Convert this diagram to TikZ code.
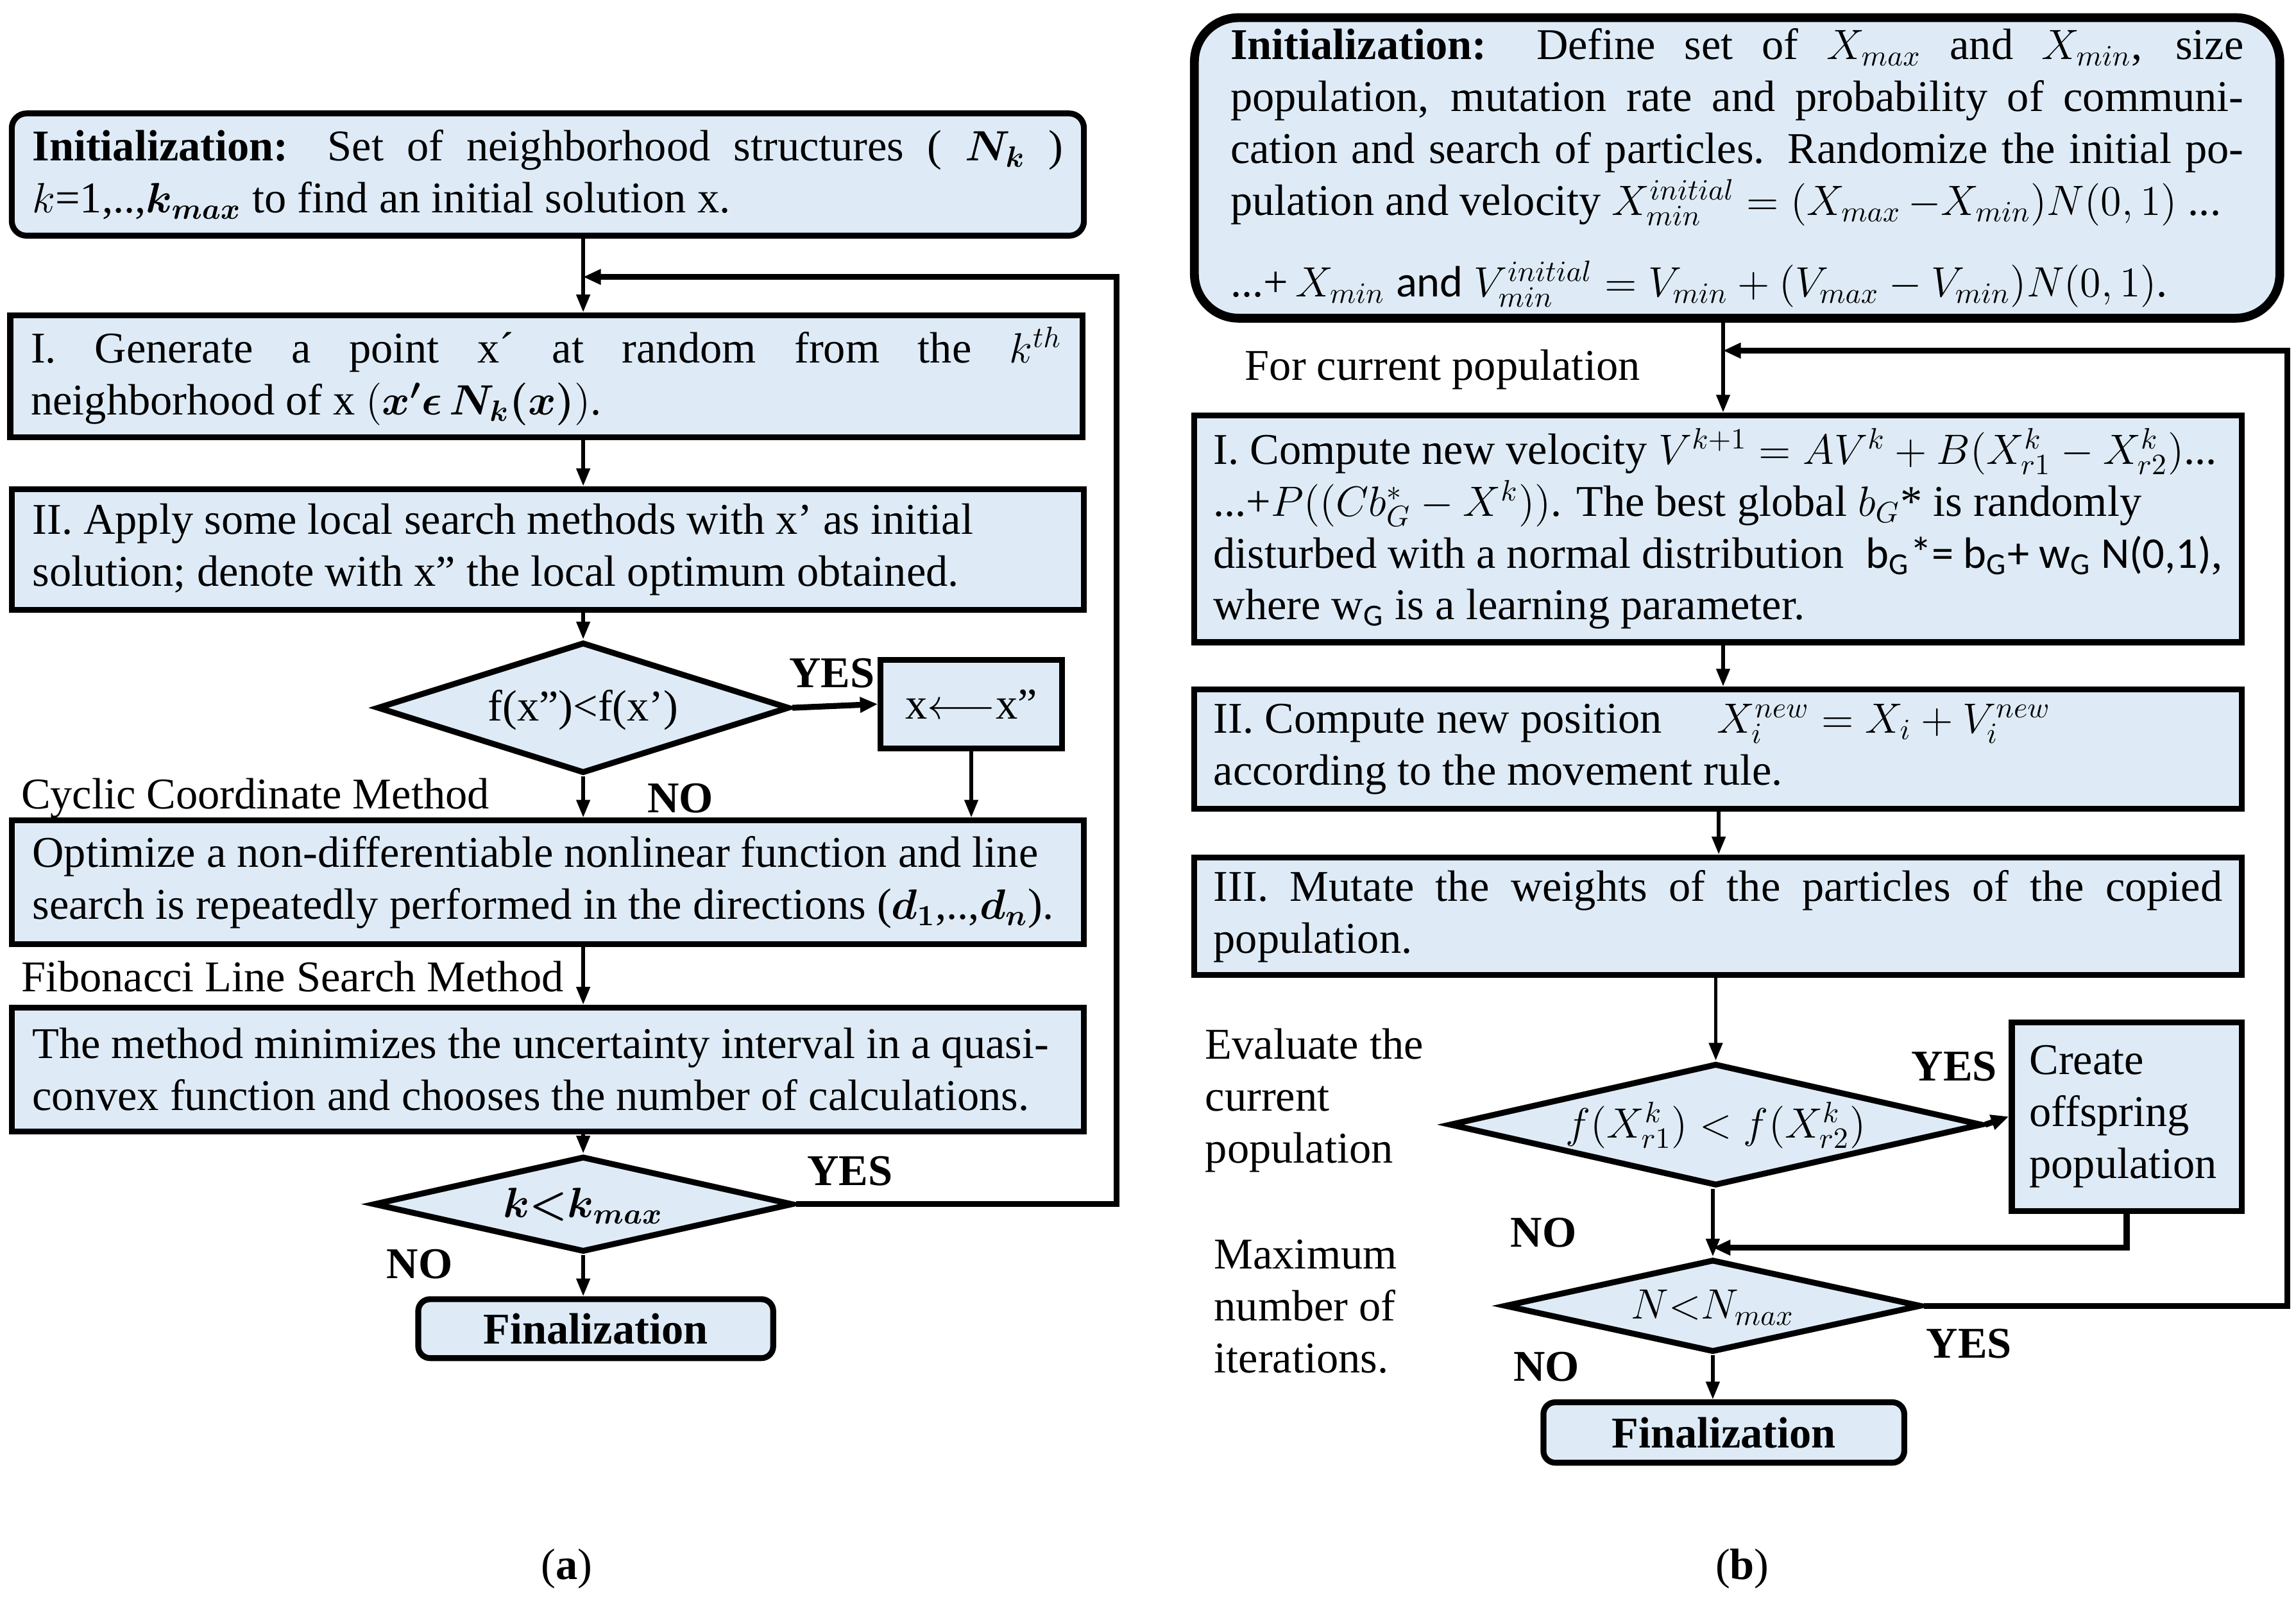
\documentclass[tikz,border=0pt]{standalone}
\usepackage{fontspec}
\setmainfont{Liberation Serif}
\newfontfamily\calibri{Carlito}
\usepackage{bm}
\usetikzlibrary{shapes.geometric,arrows.meta,calc}
\definecolor{boxblue}{RGB}{222,235,247}
\newcommand\myfs{\fontsize{14.9pt}{17.6pt}\selectfont}
\newcommand\ctr[1]{\smash{\raisebox{-0.3em}{\makebox[0pt]{#1}}}}
\tolerance=10000
\hyphenpenalty=10000
\begin{document}
\begin{tikzpicture}[x=0.5pt,y=-0.5pt,
  blk/.style={draw=black, line width=2pt, fill=boxblue, font=\myfs},
  lbox/.style={blk, align=justify, inner xsep=7pt, inner ysep=0pt, text width=350pt},
  rbox/.style={blk, align=justify, inner xsep=6.5pt, inner ysep=0pt, text width=342.5pt},
  dia/.style={blk, diamond, inner sep=0pt},
  fin/.style={blk, rounded corners=4pt, inner sep=0pt, font=\myfs\bfseries},
  lbl/.style={font=\myfs, inner sep=0pt},
  yn/.style={font=\myfs\bfseries, inner sep=0pt},
  arr/.style={line width=1.2pt, -{Triangle[length=6pt,width=4.5pt]}},
  tarr/.style={line width=2pt, -{Triangle[length=6pt,width=5pt]}}
]
\fill[white] (0,0) rectangle (1559,1084);
\useasboundingbox (0,0) rectangle (1559,1084);

% ---------------- left panel ----------------
\coordinate (ca) at (396,0);
\node[lbox, rounded corners=5pt, minimum height=41.5pt] (initA) at (372,118.5)
 {\textbf{Initialization:} Set of neighborhood structures ( $\bm{N_k}$ )\linebreak $k$=1,..,$\bm{k_{max}}$ to find an initial solution x.};
\node[lbox, minimum height=41.5pt] (A1) at (371,255.5)
 {I. Generate a point x´ at random from the $k^{th}$\linebreak neighborhood of x $\big(\bm{x'\epsilon\, N_k(x)}\big)$.};
\node[lbox, minimum height=41pt] (A2) at (372,373)
 {II. Apply some local search methods with x’ as initial\\ solution; denote with x” the local optimum obtained.};
\node[dia, minimum width=140pt, minimum height=44.5pt] (D1) at (396,480.5) {\ctr{f(x”)<f(x’)}};
\node[blk, minimum width=61.5pt, minimum height=30pt, inner sep=0pt] (X) at (659.5,478) {x$\longleftarrow$x”};
\node[lbox, minimum height=42pt] (A3) at (372,599)
 {Optimize a non-differentiable nonlinear function and line\\ search is repeatedly performed in the directions ($\bm{d_1}$,..,$\bm{d_n}$).};
\node[lbox, minimum height=42pt] (A4) at (372,726)
 {The method minimizes the uncertainty interval in a quasi-\\ convex function and chooses the number of calculations.};
\node[dia, minimum width=142.5pt, minimum height=32.5pt] (D2) at (396,817.5) {\ctr{$\bm{k{<}k_{max}}$}};
\node[fin, minimum width=120.5pt, minimum height=20pt] (FA) at (404.5,902) {Finalization};

\draw[arr] (initA.south -| ca) -- (A1.north -| ca);
\draw[arr] (A1.south -| ca) -- (A2.north -| ca);
\draw[arr] (A2.south -| ca) -- (D1.north);
\draw[tarr] (D1.east) -- (X.west);
\draw[arr] (X.south) -- (X.south |- A3.north);
\draw[arr] (D1.south) -- (D1.south |- A3.north);
\draw[arr] (A3.south -| ca) -- (A4.north -| ca);
\draw[arr] (A4.south -| ca) -- (D2.north);
\draw[arr] (D2.south) -- (D2.south |- FA.north);
\coordinate (fa) at (758,188);
\draw[tarr] (D2.east) -| (fa) -- (fa -| ca);

\node[lbl, anchor=west] (cyc) at (14,542) {Cyclic Coordinate Method};
\node[yn] (no1) at (462,542) {NO};
\node[yn] (yes1) at (565,457) {YES};
\node[lbl, anchor=west] (fib) at (14,663) {Fibonacci Line Search Method};
\node[yn] (yes2) at (577,795) {YES};
\node[yn] (no2) at (285,858) {NO};
\node[lbl] (capA) at (385,1065) {(\textbf{a})};

% ---------------- right panel ----------------
\coordinate (cb) at (1170,0);
\coordinate (cb2) at (1167,0);
\node[blk, line width=3pt, rounded corners=15pt, align=justify, text width=344pt, inner xsep=12.25pt, inner ysep=0pt, minimum height=102pt] (initB) at (1179.5,114)
 {\textbf{Initialization:} Define set of $X_{max}$ and $X_{min}$, size\linebreak
  population, mutation rate and probability of communi-\linebreak
  cation and search of particles. Randomize the initial po-\linebreak
  pulation and velocity $X^{initial}_{min}=(X_{max}\,{-}X_{min})N(0,1)$ ...\\[10pt]
  ...+\,$X_{min}$ {\calibri and} $V^{initial}_{min}=V_{min}+(V_{max}-V_{min})N(0,1)$.};
\node[rbox, minimum height=77pt] (B1) at (1166.5,359)
 {I. Compute new velocity $V^{k+1}=AV^k+B\big(X^k_{r1}-X^k_{r2}\big)$...\\
  ...+$P\big((Cb^*_G-X^k)\big)$. The best global $b_G$* is randomly\\
  disturbed with a normal distribution \ {\calibri b\textsubscript{G}*= b\textsubscript{G}+ w\textsubscript{G} N(0,1)},\\
  where w\textsubscript{\calibri G} is a learning parameter.};
\node[rbox, minimum height=40.5pt] (B2) at (1166.5,508.5)
 {II. Compute new position \quad $X_i^{new}=X_i+V_i^{new}$\\ according to the movement rule.};
\node[rbox, minimum height=40pt] (B3) at (1166.5,622)
 {III. Mutate the weights of the particles of the copied\linebreak population.};
\node[dia, minimum width=181pt, minimum height=41.5pt] (D3) at (1165,763.5) {\ctr{$f\big(X^k_{r1}\big)<f\big(X^k_{r2}\big)$}};
\node[blk, align=left, text width=66pt, inner xsep=6pt, inner ysep=0pt, minimum height=64pt] (C) at (1444,758) {Create\\offspring\\population};
\node[dia, minimum width=141.5pt, minimum height=31.5pt] (D4) at (1163,886.5) {\ctr{$N{<}N_{max}$}};
\node[fin, minimum width=122.5pt, minimum height=20.5pt] (FB) at (1170.5,972.5) {Finalization};

\draw[arr] (initB.south -| cb) -- (B1.north -| cb);
\draw[arr] (B1.south -| cb) -- (B2.north -| cb);
\draw[arr] (B2.south -| cb2) -- (B3.north -| cb2);
\draw[arr] (B3.south -| D3.north) -- (D3.north);
\draw[tarr] (D3.east) -- (C.west);
\coordinate (rj) at (1163,847);
\draw[tarr] (C.south) |- (rj);
\draw[arr] (D3.south -| D4.north) -- (D4.north);
\draw[arr] (D4.south) -- (D4.south |- FB.north);
\coordinate (fb) at (1553,238);
\draw[tarr] (D4.east) -| (fb) -- (fb -| cb);

\node[lbl, anchor=west] (forcur) at (845,251) {For current population};
\node[lbl, anchor=west, align=left] (eval) at (818,747) {Evaluate the\\current\\population};
\node[yn] (yes3) at (1327,724) {YES};
\node[yn] (no3) at (1048,837) {NO};
\node[lbl, anchor=west, align=left] (maxit) at (824,887) {Maximum\\number of\\iterations.};
\node[yn] (yes4) at (1337,912) {YES};
\node[yn] (no4) at (1050,928) {NO};
\node[lbl] (capB) at (1183,1065) {(\textbf{b})};
\end{tikzpicture}
\end{document}
